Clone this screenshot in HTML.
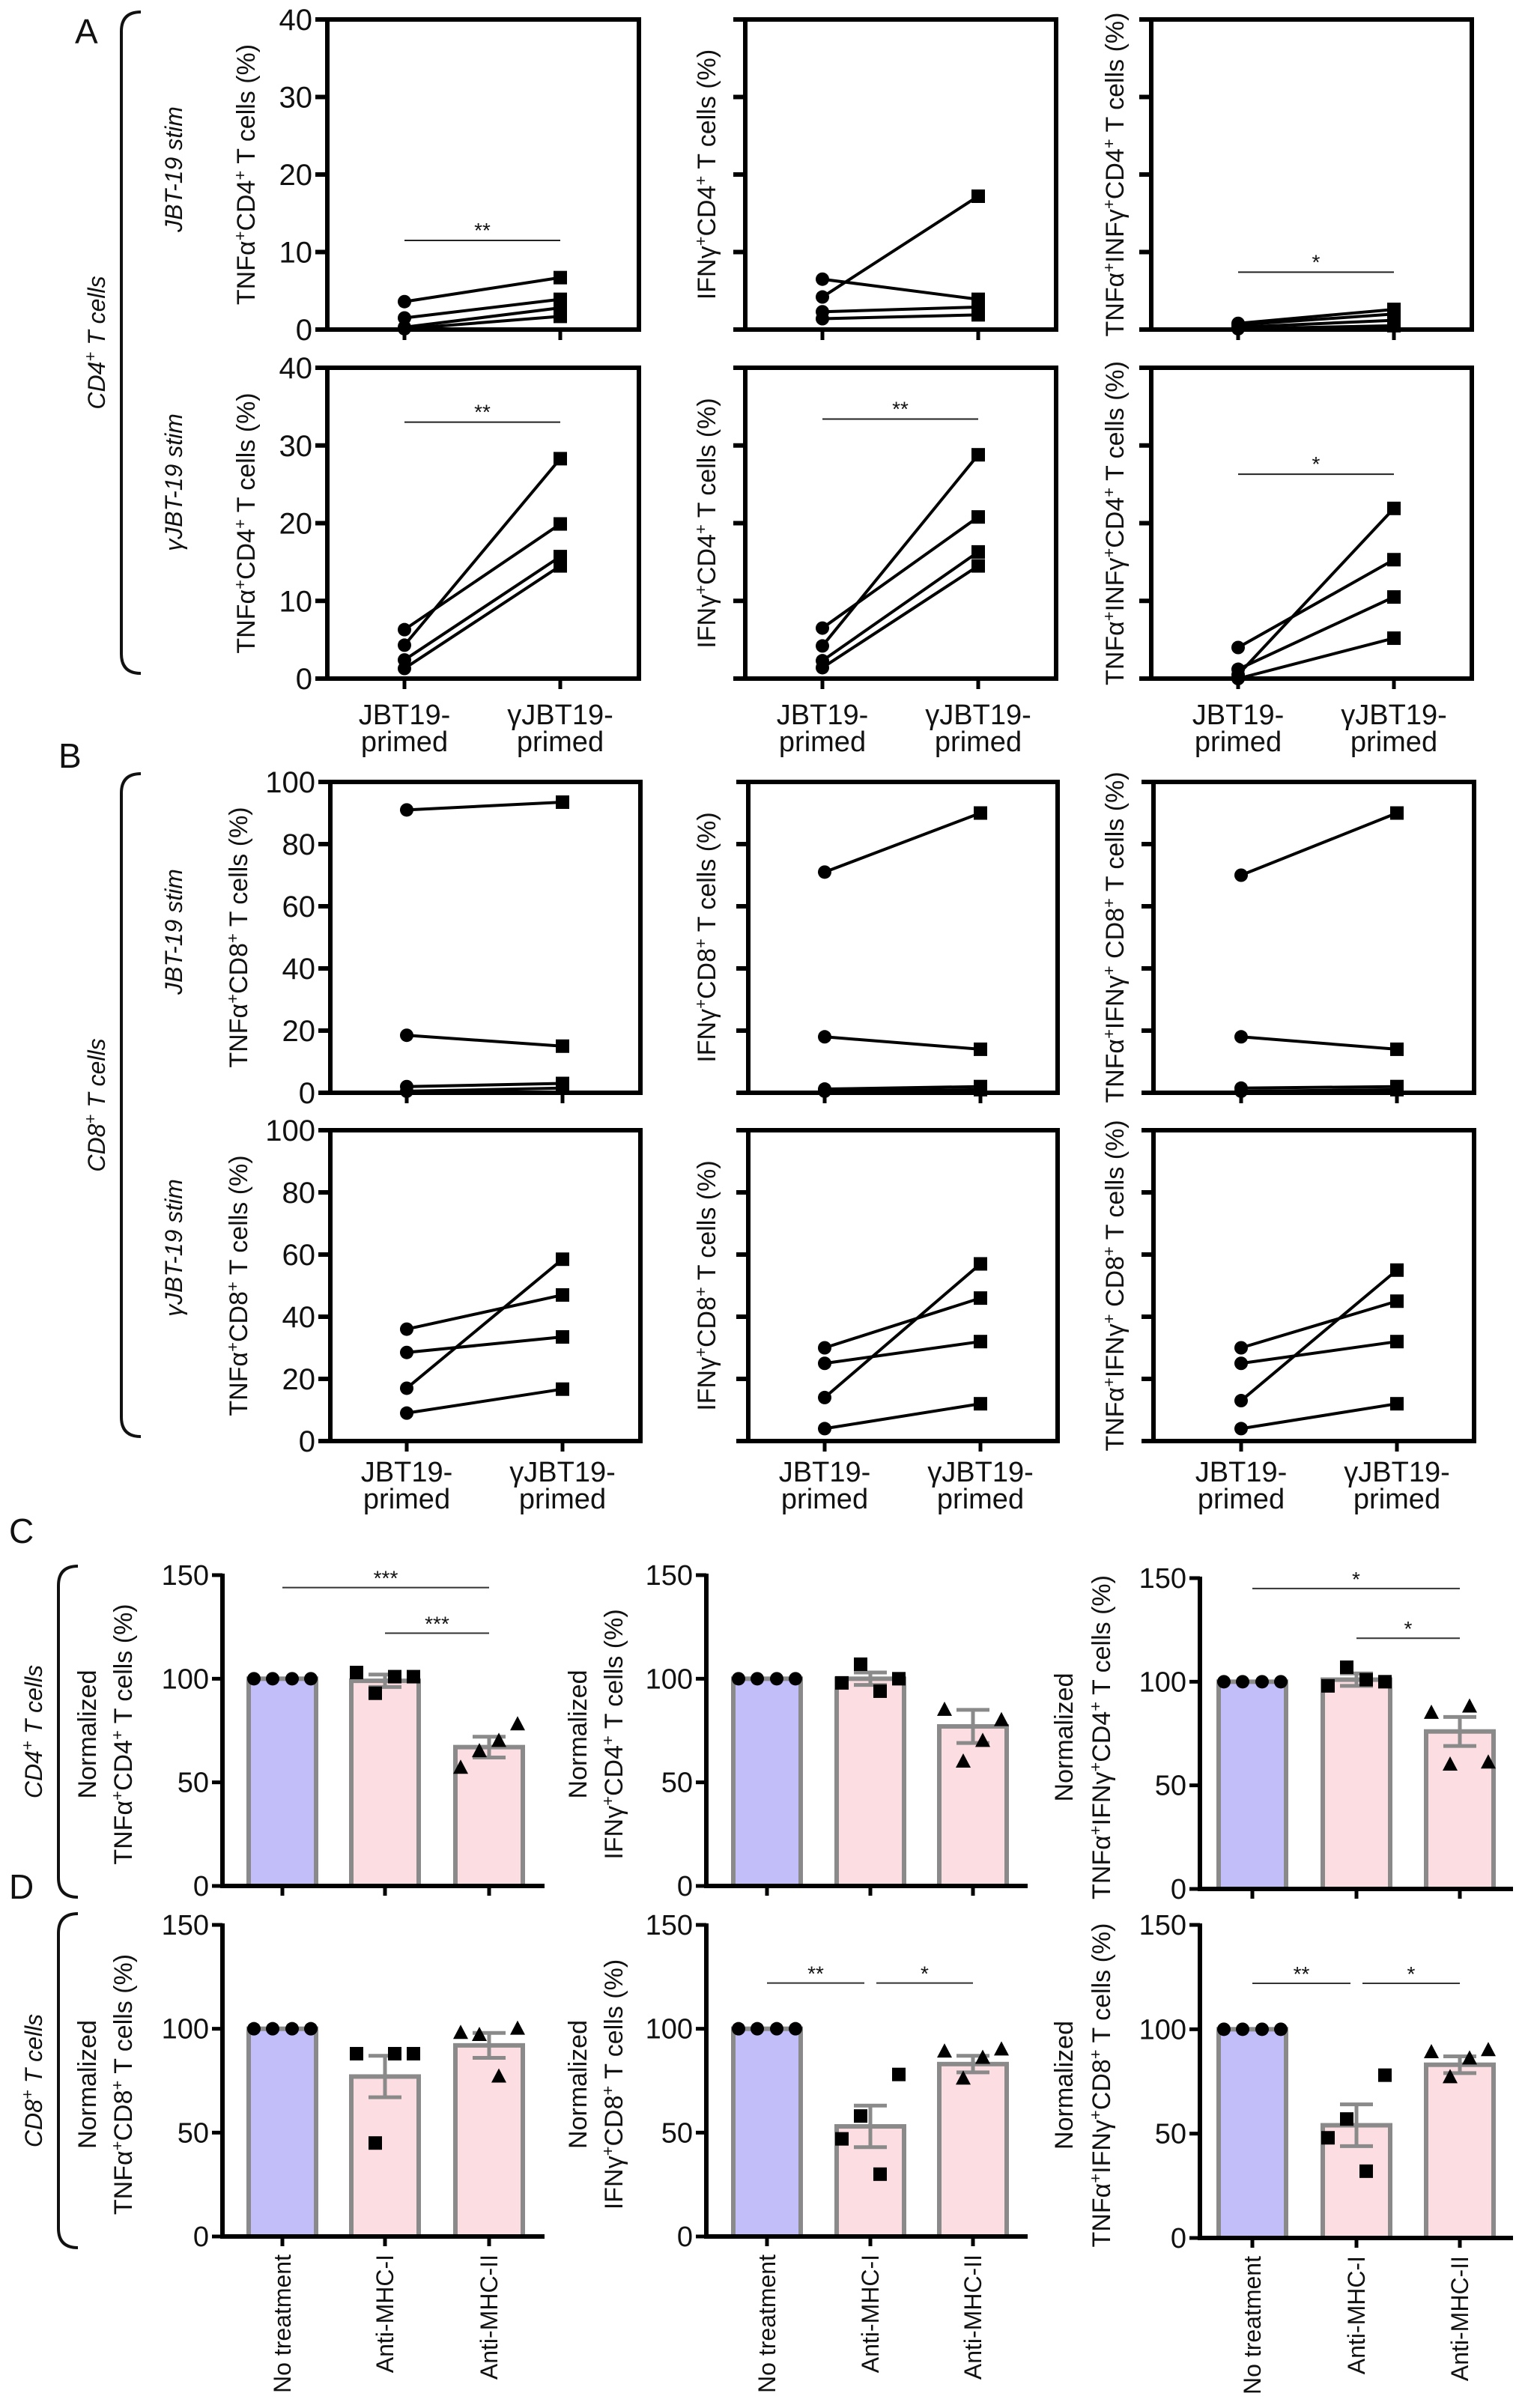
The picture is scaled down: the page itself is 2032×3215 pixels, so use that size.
<!DOCTYPE html>
<html><head><meta charset="utf-8"><style>
html,body{margin:0;padding:0;background:#fff}
svg{display:block;font-family:"Liberation Sans",Arial,sans-serif}
</style></head><body>
<svg id="fig" xmlns="http://www.w3.org/2000/svg" width="2032" height="3215" viewBox="0 0 2032 3215"></svg>
<script>
// ---------- DATA ----------
const pairCats = ['JBT19-|primed', 'γJBT19-|primed'];
const aTnfStimPre = [3.6, 1.5, 0.3, 0.1];
const aTnfStimPost = [6.7, 3.9, 2.8, 1.7];
const aIfnStimPre = [6.5, 4.2, 2.3, 1.4];
const aIfnStimPost = [3.9, 17.2, 2.9, 1.9];
const aDblStimPre = [0.8, 0.6, 0.3, 0.1];
const aDblStimPost = [2.6, 2.0, 1.2, 0.5];
const aTnfGPre = [4.3, 6.3, 2.4, 1.3];
const aTnfGPost = [28.3, 19.9, 15.7, 14.5];
const aIfnGPre = [4.2, 6.5, 2.3, 1.4];
const aIfnGPost = [28.8, 20.8, 16.3, 14.5];
const aDblGPre = [0.5, 4.0, 1.2, 0.0];
const aDblGPost = [21.9, 15.3, 10.5, 5.2];
const aTicks = [0, 10, 20, 30, 40];
const bTnfStimPre = [91, 18.5, 2, 0.5];
const bTnfStimPost = [93.5, 15, 3, 1.5];
const bIfnStimPre = [71, 18, 1.2, 0.5];
const bIfnStimPost = [90, 14, 2, 1];
const bDblStimPre = [70, 18, 1.5, 0.5];
const bDblStimPost = [90, 14, 2, 1];
const bTnfGPre = [36, 28.5, 17, 9];
const bTnfGPost = [47, 33.5, 58.5, 16.7];
const bIfnGPre = [30, 25, 14, 4];
const bIfnGPost = [46, 32, 57, 12];
const bDblGPre = [30, 25, 13, 4];
const bDblGPost = [45, 32, 55, 12];
const bTicks = [0, 20, 40, 60, 80, 100];
const barCats = ['No treatment', 'Anti-MHC-I', 'Anti-MHC-II'];
const barTicks = [0, 50, 100, 150];
const c1Mean = [100, 99, 67], c1Sem = [0, 3, 5];
const c1Pts = [[100,100,100,100],[103,93,101,101],[57,65,70,78]];
const c2Mean = [100, 100, 77], c2Sem = [0, 3, 8];
const c2Pts = [[100,100,100,100],[98,107,94,100],[85,60,70,80]];
const c3Mean = [100, 101, 76], c3Sem = [0, 3, 7];
const c3Pts = [[100,100,100,100],[98,107,101,100],[85,60,88,61]];
const d1Mean = [100, 77, 92], d1Sem = [0, 10, 6];
const d1Pts = [[100,100,100,100],[88,45,88,88],[98,97,77,100]];
const d2Mean = [100, 53, 83], d2Sem = [0, 10, 4];
const d2Pts = [[100,100,100,100],[47,58,30,78],[89,76,86,90]];
const d3Mean = [100, 54, 83], d3Sem = [0, 10, 4];
const d3Pts = [[100,100,100,100],[48,57,32,78],[89,77,86,90]];

// ---------- HELPERS ----------
const NS = 'http://www.w3.org/2000/svg';
const svg = document.getElementById('fig');
function mk(tag, attrs, parent) {
  const e = document.createElementNS(NS, tag);
  for (const k in attrs) e.setAttribute(k, attrs[k]);
  (parent || svg).appendChild(e);
  return e;
}
const S = s => '<tspan baseline-shift="super" font-size="22">' + s + '</tspan>';
function txt(x, y, html, size, anchor, rot, parent, italic) {
  const t = mk('text', {x: 0, y: 0, 'font-size': size, 'text-anchor': anchor || 'middle', fill: '#111',
    transform: 'translate(' + x + ',' + y + ')' + (rot ? ' rotate(' + rot + ')' : '')}, parent);
  if (italic) t.setAttribute('font-style', 'italic');
  t.innerHTML = html;
  return t;
}
function scale(v0, v1, p0, p1) { return v => p0 + (v - v0) * (p1 - p0) / (v1 - v0); }

function linePlot(name, x0, x1, y0, y1, tx, ymax, ticks, labels, pre, post, title, titleX, sig, xlabels, xlabY) {
  const g = mk('g', {});
  
  
  const ys = scale(0, ymax, y1, y0);
  const fr = mk('rect', {x: x0, y: y0, width: x1 - x0, height: y1 - y0, fill: 'none', stroke: '#000', 'stroke-width': 6}, g);
  
  
  ticks.forEach(t => {
    mk('line', {x1: x0 - 16, x2: x0, y1: ys(t), y2: ys(t), stroke: '#000', 'stroke-width': 6}, g);
    if (labels) {
      const tl = txt(x0 - 20, ys(t) + 14, String(t), 40, 'end', 0, g);
      
      
    }
  });
  tx.forEach(x => mk('line', {x1: x, x2: x, y1: y1, y2: y1 + 14, stroke: '#000', 'stroke-width': 5}, g));
  const tt = txt(titleX, (y0 + y1) / 2, title, 34, 'middle', -90, g);
  
  
  if (sig) {
    const sy = ys(sig[0]);
    const sl = mk('line', {x1: tx[0], x2: tx[1], y1: sy, y2: sy, stroke: '#222', 'stroke-width': 2}, g);
    
    
    txt((tx[0] + tx[1]) / 2, sy - 4, sig[1], 28, 'middle', 0, g);
  }
  pre.forEach((v, i) => {
    const l = mk('line', {x1: tx[0], x2: tx[1], y1: ys(v), y2: ys(post[i]), stroke: '#000', 'stroke-width': 4}, g);
    
    
    const c = mk('circle', {cx: tx[0], cy: ys(v), r: 9, fill: '#000'}, g);
    
    
    const s = mk('rect', {x: tx[1] - 9, y: ys(post[i]) - 9, width: 18, height: 18, fill: '#000'}, g);
    
    
  });
  if (xlabels) {
    pairCats.forEach((c, i) => {
      const p = c.split('|');
      const a = txt(tx[i], xlabY, p[0], 38, 'middle', 0, g);
      
      
      txt(tx[i], xlabY + 36, p[1], 38, 'middle', 0, g);
    });
  }
}

function barPlot(name, ax, ay0, ay150, xend, centers, mean, sem, pts, t2, titleX1, titleX2, sigs, xlabels) {
  const g = mk('g', {});
  
  
  const ys = scale(0, 150, ay0, ay150);
  const cols = ['#c2befa', '#fcdde1', '#fcdde1'];
  mean.forEach((m, i) => {
    const b = mk('rect', {x: centers[i] - 45, y: ys(m), width: 90, height: ay0 - ys(m), fill: cols[i], stroke: '#8a8a8a', 'stroke-width': 6}, g);
    
    
    if (sem[i] > 0) {
      mk('line', {x1: centers[i], x2: centers[i], y1: ys(m - sem[i]), y2: ys(m + sem[i]), stroke: '#8a8a8a', 'stroke-width': 5}, g);
      mk('line', {x1: centers[i] - 22, x2: centers[i] + 22, y1: ys(m - sem[i]), y2: ys(m - sem[i]), stroke: '#8a8a8a', 'stroke-width': 5}, g);
      mk('line', {x1: centers[i] - 22, x2: centers[i] + 22, y1: ys(m + sem[i]), y2: ys(m + sem[i]), stroke: '#8a8a8a', 'stroke-width': 5}, g);
    }
    const offs = [-38, -13, 13, 38];
    pts[i].forEach((v, j) => {
      const x = centers[i] + offs[j], y = ys(v);
      let p;
      if (i === 0) p = mk('circle', {cx: x, cy: y, r: 9, fill: '#000'}, g);
      else if (i === 1) p = mk('rect', {x: x - 9, y: y - 9, width: 18, height: 18, fill: '#000'}, g);
      else p = mk('polygon', {points: (x) + ',' + (y - 11) + ' ' + (x - 10) + ',' + (y + 8) + ' ' + (x + 10) + ',' + (y + 8), fill: '#000'}, g);
      
      
    });
  });
  mk('line', {x1: ax, x2: ax, y1: ay150 - 2, y2: ay0 + 3, stroke: '#000', 'stroke-width': 6}, g);
  mk('line', {x1: ax - 3, x2: xend, y1: ay0, y2: ay0, stroke: '#000', 'stroke-width': 6}, g);
  barTicks.forEach(t => {
    mk('line', {x1: ax - 14, x2: ax, y1: ys(t), y2: ys(t), stroke: '#000', 'stroke-width': 5}, g);
    const tl = txt(ax - 18, ys(t) + 13, String(t), 38, 'end', 0, g);
    
    
  });
  centers.forEach(c => mk('line', {x1: c, x2: c, y1: ay0, y2: ay0 + 13, stroke: '#000', 'stroke-width': 5}, g));
  const mid = (ay0 + ay150) / 2 + 5;
  const a = txt(titleX1, mid, 'Normalized', 34, 'middle', -90, g);
  
  
  txt(titleX2, mid, t2, 34, 'middle', -90, g);
  sigs.forEach(s => {
    const sy = ys(s[2]);
    const x1 = centers[s[0]] + (s[3] || 0), x2 = centers[s[1]] + (s[4] || 0);
    const l = mk('line', {x1: x1, x2: x2, y1: sy, y2: sy, stroke: '#333', 'stroke-width': 2}, g);
    
    
    txt((x1 + x2) / 2, sy - 3, s[5], 28, 'middle', 0, g);
  });
  if (xlabels) {
    barCats.forEach((c, i) => {
      const l = txt(centers[i] + 11, ay0 + 24, c, 32, 'end', -90, g);
      
      
    });
  }
}

function bracket(name, x, ya, yb, label, lx) {
  const p = mk('path', {d: 'M' + (x + 26) + ' ' + ya + ' Q' + x + ' ' + ya + ' ' + x + ' ' + (ya + 26) + ' L' + x + ' ' + (yb - 26) + ' Q' + x + ' ' + yb + ' ' + (x + 26) + ' ' + yb,
    fill: 'none', stroke: '#111', 'stroke-width': 4});
  
  
  const t = txt(lx, (ya + yb) / 2, label, 32, 'middle', -90, null, true);
  
  
}
function rowLabel(name, x, y, s) {
  const t = txt(x, y, s, 32, 'middle', -90, null, true);
  
  
}

// ---------- PANEL LETTERS ----------
[['A', 100, 58], ['B', 78, 1025], ['C', 12, 2060], ['D', 12, 2535]].forEach(l => {
  const t = txt(l[1], l[2], l[0], 46, 'start', 0);
  
  
});

// ---------- PANEL A ----------
bracket('cd4-bracket-a', 162, 16, 899, 'CD4' + S('+') + ' T cells', 140);
rowLabel('row-label-jbt19-stim', 243, 226, 'JBT-19 stim');
rowLabel('row-label-gjbt19-stim', 243, 644, 'γJBT-19 stim');
const tA1 = 'TNFα' + S('+') + 'CD4' + S('+') + ' T cells (%)';
const tA2 = 'IFNγ' + S('+') + 'CD4' + S('+') + ' T cells (%)';
const tA3 = 'TNFα' + S('+') + 'INFγ' + S('+') + 'CD4' + S('+') + ' T cells (%)';
linePlot('a-tnf-jbt19', 437, 853, 26, 440, [540, 748], 40, aTicks, true, aTnfStimPre, aTnfStimPost, tA1, 340, [11.5, '**'], false);
linePlot('a-ifn-jbt19', 995, 1410, 26, 440, [1098, 1306], 40, aTicks, false, aIfnStimPre, aIfnStimPost, tA2, 955, null, false);
linePlot('a-dbl-jbt19', 1537, 1965, 26, 440, [1653, 1861], 40, aTicks, false, aDblStimPre, aDblStimPost, tA3, 1500, [7.4, '*'], false);
linePlot('a-tnf-gjbt19', 437, 853, 491, 906, [540, 748], 40, aTicks, true, aTnfGPre, aTnfGPost, tA1, 340, [33, '**'], true, 967);
linePlot('a-ifn-gjbt19', 995, 1410, 491, 906, [1098, 1306], 40, aTicks, false, aIfnGPre, aIfnGPost, tA2, 955, [33.4, '**'], true, 967);
linePlot('a-dbl-gjbt19', 1537, 1965, 491, 906, [1653, 1861], 40, aTicks, false, aDblGPre, aDblGPost, tA3, 1500, [26.3, '*'], true, 967);

// ---------- PANEL B ----------
bracket('cd8-bracket-b', 162, 1033, 1918, 'CD8' + S('+') + ' T cells', 140);
rowLabel('row-label-jbt19-stim-b', 243, 1244, 'JBT-19 stim');
rowLabel('row-label-gjbt19-stim-b', 243, 1666, 'γJBT-19 stim');
const tB1 = 'TNFα' + S('+') + 'CD8' + S('+') + ' T cells (%)';
const tB2 = 'IFNγ' + S('+') + 'CD8' + S('+') + ' T cells (%)';
const tB3 = 'TNFα' + S('+') + 'IFNγ' + S('+') + ' CD8' + S('+') + ' T cells (%)';
linePlot('b-tnf-jbt19', 441, 855, 1044, 1459, [543, 751], 100, bTicks, true, bTnfStimPre, bTnfStimPost, tB1, 330, null, false);
linePlot('b-ifn-jbt19', 999, 1412, 1044, 1459, [1101, 1309], 100, bTicks, false, bIfnStimPre, bIfnStimPost, tB2, 955, null, false);
linePlot('b-dbl-jbt19', 1540, 1968, 1044, 1459, [1657, 1865], 100, bTicks, false, bDblStimPre, bDblStimPost, tB3, 1500, null, false);
linePlot('b-tnf-gjbt19', 441, 855, 1509, 1924, [543, 751], 100, bTicks, true, bTnfGPre, bTnfGPost, tB1, 330, null, true, 1978);
linePlot('b-ifn-gjbt19', 999, 1412, 1509, 1924, [1101, 1309], 100, bTicks, false, bIfnGPre, bIfnGPost, tB2, 955, null, true, 1978);
linePlot('b-dbl-gjbt19', 1540, 1968, 1509, 1924, [1657, 1865], 100, bTicks, false, bDblGPre, bDblGPost, tB3, 1500, null, true, 1978);

// ---------- PANELS C / D ----------
bracket('cd4-bracket-c', 78, 2091, 2533, 'CD4' + S('+') + ' T cells', 56);
bracket('cd8-bracket-d', 78, 2555, 3001, 'CD8' + S('+') + ' T cells', 56);
const cen1 = [377, 514, 653], cen2 = [1024, 1162, 1299], cen3 = [1672, 1811, 1949];
barPlot('c-tnf', 297, 2518, 2103, 727, cen1, c1Mean, c1Sem, c1Pts, 'TNFα' + S('+') + 'CD4' + S('+') + ' T cells (%)', 128, 176,
  [[0, 2, 144, 0, 0, '***'], [1, 2, 122, 0, 0, '***']], false);
barPlot('c-ifn', 943, 2518, 2103, 1372, cen2, c2Mean, c2Sem, c2Pts, 'IFNγ' + S('+') + 'CD4' + S('+') + ' T cells (%)', 783, 831, [], false);
barPlot('c-dbl', 1602, 2522, 2107, 2020, cen3, c3Mean, c3Sem, c3Pts, 'TNFα' + S('+') + 'IFNγ' + S('+') + 'CD4' + S('+') + ' T cells (%)', 1432, 1482,
  [[0, 2, 145, 0, 0, '*'], [1, 2, 121, 0, 0, '*']], false);
barPlot('d-tnf', 297, 2986, 2570, 727, cen1, d1Mean, d1Sem, d1Pts, 'TNFα' + S('+') + 'CD8' + S('+') + ' T cells (%)', 128, 176, [], true);
barPlot('d-ifn', 943, 2986, 2570, 1372, cen2, d2Mean, d2Sem, d2Pts, 'IFNγ' + S('+') + 'CD8' + S('+') + ' T cells (%)', 783, 831,
  [[0, 1, 122, 0, -8, '**'], [1, 2, 122, 8, 0, '*']], true);
barPlot('d-dbl', 1602, 2988, 2570, 2020, cen3, d3Mean, d3Sem, d3Pts, 'TNFα' + S('+') + 'IFNγ' + S('+') + 'CD8' + S('+') + ' T cells (%)', 1432, 1482,
  [[0, 1, 122, 0, -8, '**'], [1, 2, 122, 8, 0, '*']], true);
</script>
</body></html>
